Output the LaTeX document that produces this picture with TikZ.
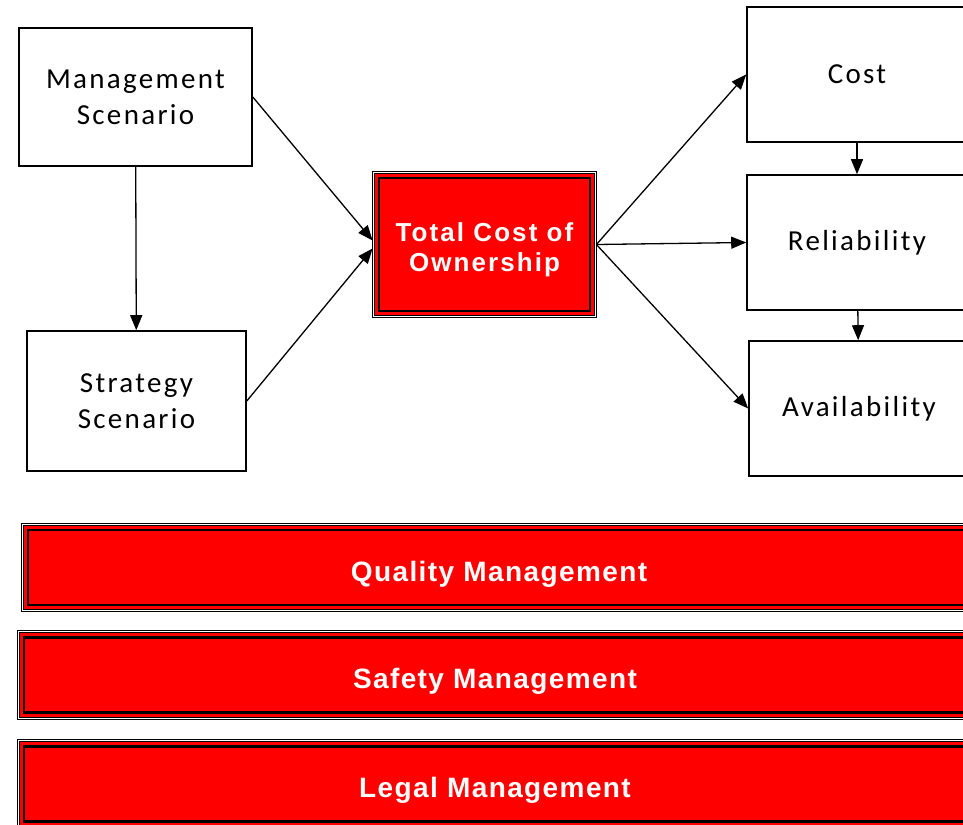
\documentclass[tikz,border=0pt]{standalone}
\usepackage{fontspec}
\usetikzlibrary{arrows.meta,backgrounds,fit}
\newfontfamily\plainfont[LetterSpace=8]{Carlito}
\newfontfamily\heavyfont[LetterSpace=5]{Liberation Sans}
\newfontfamily\widefont[LetterSpace=8]{Liberation Sans}
\definecolor{boxred}{RGB}{255,0,0}

\begin{document}
\begin{tikzpicture}[x=1pt,y=-1pt]
\tikzstyle{block} = [rectangle, draw=black, line width=1.6pt, fill=white,
align=center, inner sep=0pt, font=\plainfont\fontsize{29}{36}\selectfont]
\tikzstyle{redbox} = [rectangle, draw=black, line width=2.6pt, fill=boxred,
text=white, align=center, inner sep=0pt]
\tikzstyle{frame} = [rectangle, draw=black, line width=1.2pt, double=white,
double distance=0.8pt, fill=boxred, inner sep=4.5pt]
\tikzstyle{line} = [draw, line width=1.3pt, -{Triangle[length=15pt,width=12pt]}];
\useasboundingbox (0,0) rectangle (963,824);

% left column
\node [block, minimum width=233, minimum height=138] (mgmt) at (135.5,97) {Management\\Scenario};
\node [block, minimum width=219, minimum height=140] (strat) at (136.5,401) {Strategy\\Scenario};
% centre
\node [redbox, minimum width=211, minimum height=133, text height=53.5pt, text depth=0pt,
font=\widefont\bfseries\fontsize{26}{30}\selectfont] (tco) at (484.5,244.5) {Total Cost of\\Ownership};
% right column
\node [block, minimum width=220, minimum height=135] (cost) at (857,74.5) {Cost};
\node [block, minimum width=220, minimum height=135] (rel) at (857,242.5) {Reliability};
\node [block, minimum width=220, minimum height=135] (avail) at (859,408.5) {Availability};
% bars
\tikzstyle{bar} = [redbox, minimum width=942, minimum height=75, text height=27.5pt, text depth=0pt,
font=\heavyfont\bfseries\fontsize{28}{32}\selectfont]
\node [bar] (qual) at (499,567.5) {Quality Management};
\node [bar] (safe) at (495,675) {Safety Management};
\node [bar] (legal) at (495,784) {Legal Management};

\begin{pgfonlayer}{background}
\foreach \n in {tco,qual,safe,legal}
  \node [frame, fit=(\n)] (\n-frame) {};
\end{pgfonlayer}

\tikzstyle{every path}=[line]
\path (mgmt) -- (strat);
\path (mgmt.east) -- ([yshift=4pt]tco-frame.west);
\path (strat.east) -- ([yshift=-4pt]tco-frame.west);
\path (tco-frame.east) -- (cost.west);
\path (tco-frame.east) -- (rel.west);
\path (tco-frame.east) -- (avail.west);
\path (cost) -- (rel);
\path (rel) -- (avail);

\end{tikzpicture}
\end{document}
